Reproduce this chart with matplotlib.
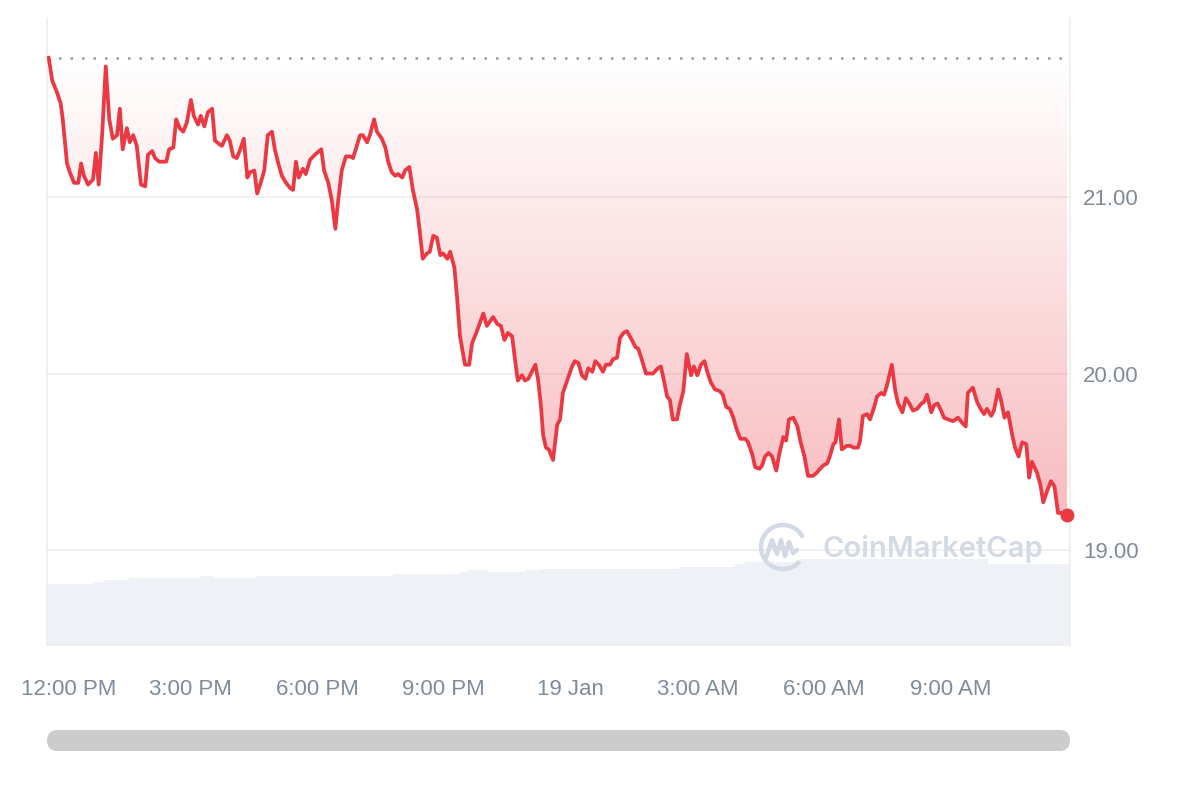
import matplotlib
matplotlib.use("Agg")
import matplotlib.pyplot as plt
import numpy as np
from matplotlib.patches import FancyBboxPatch, Arc
from matplotlib.colors import to_rgb
import matplotlib.transforms as mtransforms

# ---------------- data ----------------
# minutes since 12:00 PM (18 Jan)
time_min = [-21, -16, -9, -4, -1, 5, 9, 15, 21, 25, 29, 35, 42, 46, 50, 55, 60, 65, 70, 76,
            80, 84, 90, 94, 99, 104, 110, 116, 120, 126, 130, 136, 141, 146, 150, 156, 160, 165, 170, 175,
            181, 185, 191, 195, 200, 205, 211, 215, 221, 225, 232, 236, 241, 246, 251, 256, 261, 265, 271, 275,
            280, 285, 290, 296, 300, 305, 310, 316, 322, 326, 330, 334, 340, 344, 350, 357, 366, 370, 376, 381,
            386, 390, 395, 401, 407, 411, 415, 421, 425, 431, 435, 441, 445, 452, 457, 461, 466, 471, 475, 481,
            485, 491, 496, 502, 506, 510, 516, 520, 525, 530, 535, 539, 545, 549, 555, 559, 563, 570, 576, 580,
            587, 596, 601, 610, 616, 621, 626, 631, 637, 641, 645, 651, 655, 660, 665, 670, 674, 678, 681, 685,
            689, 695, 701, 705, 709, 715, 722, 726, 731, 736, 741, 745, 751, 755, 760, 766, 770, 776, 780, 786,
            790, 795, 800, 807, 812, 816, 821, 827, 833, 837, 844, 848, 851, 857, 861, 865, 871, 875, 880, 885,
            891, 895, 900, 905, 910, 914, 919, 925, 932, 936, 941, 946, 951, 956, 961, 968, 972, 978, 982, 988,
            992, 996, 1001, 1006, 1012, 1016, 1022, 1026, 1030, 1036, 1042, 1046, 1052, 1057, 1064, 1070, 1074, 1079, 1084, 1088,
            1093, 1096, 1101, 1105, 1112, 1117, 1122, 1128, 1131, 1135, 1141, 1145, 1151, 1155, 1161, 1165, 1169, 1176, 1181, 1185,
            1191, 1196, 1201, 1206, 1212, 1218, 1222, 1226, 1232, 1236, 1241, 1246, 1250, 1256, 1263, 1270, 1276, 1281, 1284, 1291,
            1297, 1302, 1307, 1311, 1317, 1321, 1327, 1331, 1336, 1341, 1347, 1351, 1356, 1361, 1367, 1371, 1375, 1382, 1387, 1391,
            1397, 1402, 1407, 1412, 1418, 1425]

price = [21.79, 21.66, 21.59, 21.53, 21.44, 21.19, 21.14, 21.08, 21.08, 21.19, 21.12, 21.07, 21.10, 21.25, 21.07, 21.36, 21.74, 21.44, 21.33, 21.35,
         21.50, 21.27, 21.39, 21.31, 21.35, 21.29, 21.07, 21.06, 21.24, 21.26, 21.22, 21.20, 21.20, 21.20, 21.27, 21.28, 21.44, 21.39, 21.37, 21.42,
         21.55, 21.46, 21.41, 21.46, 21.40, 21.48, 21.50, 21.32, 21.30, 21.29, 21.35, 21.32, 21.23, 21.22, 21.27, 21.33, 21.11, 21.14, 21.15, 21.02,
         21.08, 21.15, 21.35, 21.37, 21.27, 21.19, 21.12, 21.08, 21.05, 21.04, 21.20, 21.11, 21.16, 21.13, 21.21, 21.24, 21.27, 21.15, 21.08, 20.98,
         20.82, 20.98, 21.15, 21.23, 21.23, 21.22, 21.27, 21.35, 21.35, 21.31, 21.35, 21.44, 21.37, 21.33, 21.28, 21.20, 21.14, 21.12, 21.13, 21.11,
         21.15, 21.17, 21.04, 20.93, 20.80, 20.65, 20.68, 20.69, 20.78, 20.77, 20.67, 20.68, 20.65, 20.69, 20.60, 20.42, 20.21, 20.05, 20.05, 20.17,
         20.24, 20.34, 20.27, 20.32, 20.28, 20.27, 20.19, 20.23, 20.21, 20.08, 19.96, 19.99, 19.96, 19.97, 20.01, 20.05, 19.96, 19.81, 19.65, 19.58,
         19.57, 19.51, 19.71, 19.74, 19.89, 19.96, 20.04, 20.07, 20.06, 19.99, 19.97, 20.03, 20.01, 20.07, 20.05, 20.01, 20.05, 20.05, 20.08, 20.09,
         20.20, 20.23, 20.24, 20.19, 20.15, 20.14, 20.08, 20.00, 20.00, 20.00, 20.03, 20.04, 19.99, 19.87, 19.85, 19.74, 19.74, 19.82, 19.90, 20.11,
         19.99, 20.04, 19.99, 20.05, 20.07, 20.01, 19.95, 19.91, 19.90, 19.88, 19.81, 19.80, 19.75, 19.68, 19.63, 19.63, 19.61, 19.54, 19.47, 19.46,
         19.48, 19.53, 19.55, 19.53, 19.45, 19.54, 19.64, 19.62, 19.74, 19.75, 19.70, 19.62, 19.53, 19.42, 19.42, 19.44, 19.46, 19.48, 19.49, 19.53,
         19.60, 19.61, 19.74, 19.57, 19.59, 19.59, 19.58, 19.58, 19.62, 19.76, 19.77, 19.74, 19.81, 19.87, 19.89, 19.88, 19.93, 20.05, 19.90, 19.83,
         19.78, 19.86, 19.83, 19.79, 19.80, 19.83, 19.84, 19.88, 19.78, 19.82, 19.83, 19.79, 19.75, 19.74, 19.73, 19.75, 19.72, 19.70, 19.89, 19.92,
         19.84, 19.80, 19.77, 19.80, 19.76, 19.79, 19.91, 19.85, 19.75, 19.78, 19.65, 19.58, 19.53, 19.61, 19.60, 19.41, 19.50, 19.44, 19.37, 19.27,
         19.34, 19.39, 19.36, 19.21, 19.21, 19.20]

# volume (relative units), piecewise levels
vol_start = [-23, 42, 58, 93, 194, 212, 273, 468, 563, 574, 603, 655, 677, 875, 953, 968, 1046, 1312]
vol_end   = [42, 58, 93, 194, 212, 273, 468, 563, 574, 603, 655, 677, 875, 953, 968, 1046, 1312, 1429]
vol_value = [61, 63, 65, 67, 69, 67, 69, 71, 73, 75, 73, 75, 76, 78, 81, 83, 86, 81]

x_ticks = [0, 180, 360, 540, 720, 900, 1080, 1260]
x_labels = ["12:00 PM", "3:00 PM", "6:00 PM", "9:00 PM", "19 Jan", "3:00 AM", "6:00 AM", "9:00 AM"]
y_ticks = [19.0, 20.0, 21.0]

# ---------------- style ----------------
RED = "#ea3943"
LABEL = "#808a9d"
GRID = "#eeeeee"
plt.rcParams["font.family"] = ["Liberation Sans", "DejaVu Sans"]

fig = plt.figure(figsize=(12, 8), dpi=100)
fig.patch.set_facecolor("white")
pos = [47 / 1200, 1 - 645 / 800, (1070 - 47) / 1200, (645 - 18) / 800]
XMIN, XMAX = -23.4, 1429
YMIN, YMAX = 18.462, 22.014

# volume axes (behind)
axv = fig.add_axes(pos, zorder=1)
axv.bar(vol_start, vol_value, width=[e - s for s, e in zip(vol_start, vol_end)],
        align="edge", color="#eef1f5", linewidth=0)
axv.set_xlim(XMIN, XMAX)
axv.set_ylim(0, 627)
axv.axis("off")

# price axes (front)
ax = fig.add_axes(pos, zorder=2)
ax.patch.set_alpha(0)
ax.set_xlim(XMIN, XMAX)
ax.set_ylim(YMIN, YMAX)

for yv in y_ticks:
    ax.axhline(yv, color=GRID, lw=1.2, zorder=0.5)

base = price[0]
t = np.array(time_min, dtype=float)
p = np.array(price)

# gradient fill between baseline and price
poly = ax.fill_between(t, p, base, color="none", lw=0)
path = poly.get_paths()[0]
n = 256
r, g, b = to_rgb(RED)
grad = np.zeros((n, 1, 4))
grad[:, 0, 0] = r
grad[:, 0, 1] = g
grad[:, 0, 2] = b
grad[:, 0, 3] = np.linspace(0.34, 0.0, n)
im = ax.imshow(grad, extent=[XMIN, XMAX, min(price), base], origin="lower",
               aspect="auto", zorder=1, interpolation="bilinear")
im.set_clip_path(path, transform=ax.transData)
ax.set_xlim(XMIN, XMAX)
ax.set_ylim(YMIN, YMAX)

# baseline dotted
ax.axhline(base, color="#9a9a9a", lw=1.8, linestyle=(0, (1, 3.6)), zorder=2)

# price line
ax.plot(t, p, color=RED, lw=2.7, zorder=3, solid_joinstyle="round", solid_capstyle="round")
ax.plot([t[-1]], [p[-1]], "o", color=RED, markersize=9, zorder=4, clip_on=False)

# spines
ax.spines["top"].set_visible(False)
for s in ["left", "right", "bottom"]:
    ax.spines[s].set_color(GRID)
    ax.spines[s].set_linewidth(1.2)

# ticks
ax.yaxis.tick_right()
ax.set_yticks(y_ticks)
ax.set_yticklabels([f"{v:.2f}" for v in y_ticks])
ax.tick_params(axis="y", length=0, pad=9.5, labelsize=16, labelcolor=LABEL)
ax.set_xticks([])
trans = mtransforms.blended_transform_factory(ax.transData, ax.transAxes)
for i, (xt, lb) in enumerate(zip(x_ticks, x_labels)):
    tr = trans
    if i == 0:
        tr = mtransforms.offset_copy(trans, fig=fig, x=5, y=0, units="dots")
    ax.text(xt, -0.0702, lb, transform=tr, ha="center", va="center",
            fontsize=16, color=LABEL)

# watermark
WM = "#d3d9e5"
px = fig.dpi_scale_trans
arc = Arc((7.83, 8 - 5.47), 0.44, 0.44, theta1=25, theta2=320, transform=px,
          color=WM, lw=3.2, zorder=5)
fig.add_artist(arc)
wave_x = [7.66, 7.72, 7.77, 7.81, 7.85, 7.89, 7.93, 7.97]
wave_y = [2.42, 2.60, 2.46, 2.60, 2.44, 2.58, 2.47, 2.50]
fig.add_artist(plt.Line2D(wave_x, wave_y, transform=px, color=WM, lw=3.2,
                          solid_capstyle="round", solid_joinstyle="round", zorder=5))
fig.text(8.22 / 12, 1 - 5.49 / 8, "CoinMarketCap", fontsize=21, fontweight="semibold",
         color=WM, ha="left", va="center", family=["Inter", "DejaVu Sans"], zorder=5)

# scrollbar
sb = FancyBboxPatch((0.47, 0.49), 10.23, 0.21, boxstyle="round,pad=0,rounding_size=0.105",
                    transform=px, facecolor="#cccccc", edgecolor="none")
fig.add_artist(sb)

fig.savefig("out.png", dpi=100, facecolor="white")
